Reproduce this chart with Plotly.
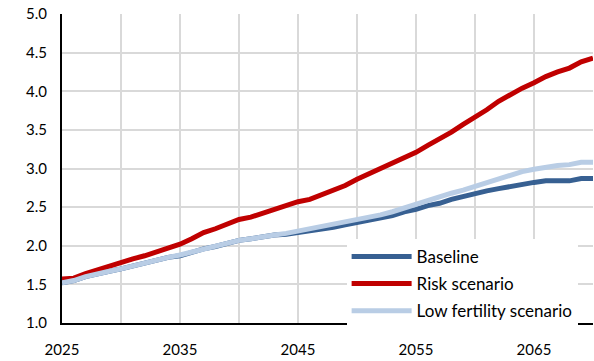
import plotly.graph_objects as go

years = list(range(2025, 2071))

baseline = [1.52, 1.55, 1.60, 1.64, 1.67, 1.70, 1.74, 1.78, 1.81, 1.85,
            1.87, 1.92, 1.96, 1.99, 2.03, 2.07, 2.09, 2.12, 2.14, 2.15,
            2.17, 2.19, 2.21, 2.24, 2.27, 2.30, 2.33, 2.36, 2.39, 2.44,
            2.47, 2.52, 2.55, 2.60, 2.64, 2.67, 2.71, 2.74, 2.77, 2.80,
            2.82, 2.84, 2.84, 2.84, 2.87, 2.87]

risk = [1.57, 1.58, 1.64, 1.69, 1.73, 1.78, 1.83, 1.87, 1.92, 1.97,
        2.02, 2.09, 2.17, 2.22, 2.28, 2.34, 2.37, 2.42, 2.47, 2.52,
        2.57, 2.60, 2.66, 2.72, 2.78, 2.86, 2.93, 3.00, 3.07, 3.14,
        3.21, 3.30, 3.38, 3.47, 3.57, 3.66, 3.76, 3.87, 3.96, 4.04,
        4.11, 4.19, 4.25, 4.30, 4.38, 4.43]

low_fertility = [1.52, 1.55, 1.60, 1.64, 1.67, 1.70, 1.74, 1.78, 1.81, 1.85,
                 1.88, 1.92, 1.96, 1.99, 2.03, 2.07, 2.09, 2.12, 2.14, 2.16,
                 2.19, 2.21, 2.24, 2.27, 2.30, 2.33, 2.37, 2.40, 2.44, 2.49,
                 2.54, 2.59, 2.63, 2.68, 2.72, 2.77, 2.82, 2.86, 2.91, 2.96,
                 2.99, 3.02, 3.04, 3.05, 3.08, 3.08]

series = [
    ("Baseline", baseline, "#376092"),
    ("Risk scenario", risk, "#C00000"),
    ("Low fertility scenario", low_fertility, "#B9CDE5"),
]

font_family = "Lato, 'Liberation Sans', sans-serif"

fig = go.Figure()
for i, (name, vals, color) in enumerate(series):
    fig.add_trace(go.Scatter(
        x=years, y=vals, name=name, mode="lines",
        line=dict(color=color, width=5),
        legendgroup=f"g{i}",
        cliponaxis=False,
    ))

fig.update_layout(
    width=594, height=361,
    margin=dict(l=62, r=1, t=14, b=38),
    paper_bgcolor="white", plot_bgcolor="white",
    font=dict(family=font_family, size=15, color="#000000"),
    showlegend=True,
    legend=dict(
        x=0.536, y=0.272, xanchor="left", yanchor="top",
        bgcolor="white", borderwidth=0,
        font=dict(family=font_family, size=17, color="#000000"),
        traceorder="grouped", tracegroupgap=2,
        itemwidth=60,
    ),
    xaxis=dict(
        range=[2025, 2070], tick0=2025, dtick=10,
        showgrid=True, gridcolor="#D9D9D9", gridwidth=2,
        minor=dict(dtick=5, tick0=2025, showgrid=True, gridcolor="#D9D9D9", gridwidth=2),
        showline=True, linecolor="#000000", linewidth=2,
        ticks="", ticklabelstandoff=12,
        zeroline=False,
    ),
    yaxis=dict(
        range=[1, 5], dtick=0.5, tick0=1, tickformat=".1f",
        showgrid=True, gridcolor="#D9D9D9", gridwidth=2,
        showline=True, linecolor="#000000", linewidth=2,
        ticks="", ticklabelstandoff=10,
        zeroline=False,
    ),
)

fig.write_html("out.html")
